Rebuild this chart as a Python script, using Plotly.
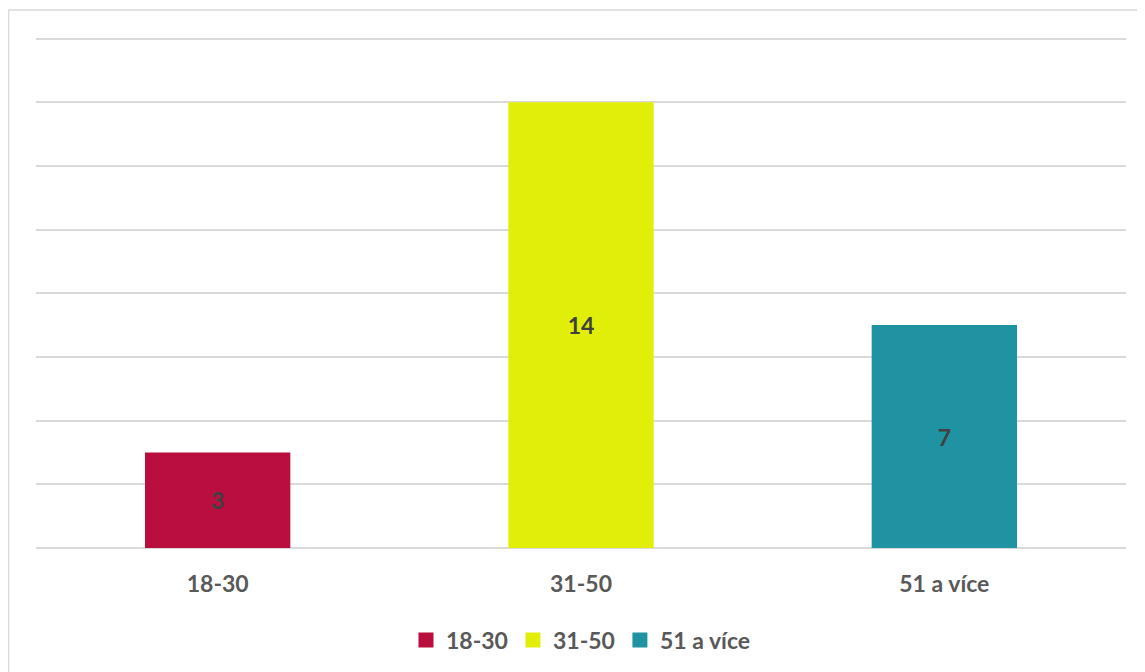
import plotly.graph_objects as go

categories = ["18-30", "31-50", "51 a více"]
values = [3, 14, 7]
colors = ["#B90E3E", "#E1EF08", "#2093A3"]

# page body adds 8px margin, so figure is sized to compensate
OFF = 8
W, H = 1145 - OFF, 672 - OFF
YMAX = 16.3
L, R, B = 36 - OFF, 19, 123
T = round(549 - 510 * YMAX / 16) - OFF
pw, ph = W - L - R, H - T - B
FONT = "Lato"

fig = go.Figure()
for cat, val, col in zip(categories, values, colors):
    fig.add_trace(go.Bar(
        x=[cat], y=[val], name=cat, showlegend=False,
        marker=dict(color=col, line=dict(width=0)),
        width=0.4,
        text=[str(val)], textposition="inside", insidetextanchor="middle",
        textfont=dict(family=FONT, size=23, color="#404040", weight="bold"),
        textangle=0,
    ))
# legend entries as square markers
for cat, col in zip(categories, colors):
    fig.add_trace(go.Scatter(
        x=[None], y=[None], name=cat, mode="markers",
        marker=dict(symbol="square", size=15, color=col),
    ))

fig.update_layout(
    width=W, height=H,
    margin=dict(l=L, r=R, t=T, b=B),
    plot_bgcolor="white", paper_bgcolor="white",
    font=dict(family=FONT, color="#595959"),
    showlegend=True,
    legend=dict(
        orientation="h", x=0.5, xanchor="center",
        y=(T + ph - (640 - OFF)) / ph, yanchor="middle",
        font=dict(size=23, color="#595959", weight="bold"),
        traceorder="normal", itemwidth=30,
    ),
    shapes=[dict(
        type="rect", xref="paper", yref="paper",
        x0=-L / pw + 0.0005, x1=(W + 10 - L) / pw,
        y0=-(H + 10 - T - ph) / ph, y1=1 + (T - 2) / ph,
        line=dict(color="#D9D9D9", width=1.5), fillcolor="rgba(0,0,0,0)",
        layer="below",
    )],
)
fig.update_xaxes(
    showgrid=False, showline=False, ticks="",
    tickfont=dict(family=FONT, size=23, color="#595959", weight="bold"),
    ticklabelstandoff=20,
)
fig.update_yaxes(
    range=[0, YMAX], dtick=2, showticklabels=False,
    showgrid=True, gridcolor="#D9D9D9", gridwidth=1.5,
    zeroline=True, zerolinecolor="#D9D9D9", zerolinewidth=1.5,
    showline=False,
)

fig.write_html("out.html")
